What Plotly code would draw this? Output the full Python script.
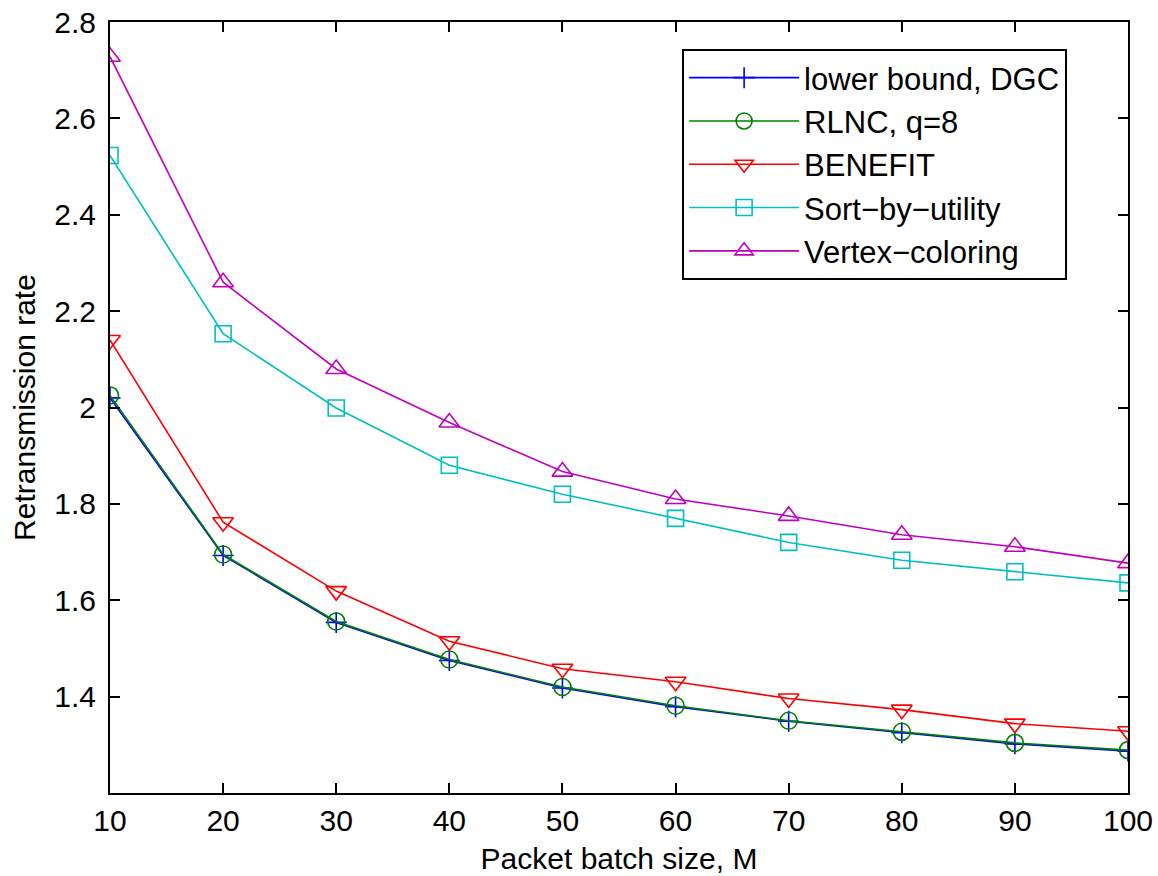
import plotly.graph_objects as go

batch_size = [10, 20, 30, 40, 50, 60, 70, 80, 90, 100]
lower_bound_dgc = [2.020, 1.693, 1.554, 1.475, 1.418, 1.379, 1.349, 1.325, 1.302, 1.287]
rlnc_q8 = [2.025, 1.695, 1.556, 1.477, 1.420, 1.381, 1.350, 1.327, 1.304, 1.289]
benefit = [2.140, 1.762, 1.619, 1.515, 1.458, 1.431, 1.396, 1.373, 1.344, 1.328]
sort_by_utility = [2.523, 2.153, 1.999, 1.880, 1.820, 1.770, 1.720, 1.683, 1.659, 1.636]
vertex_coloring = [2.728, 2.260, 2.080, 1.969, 1.867, 1.810, 1.775, 1.736, 1.711, 1.677]

y_tick_vals = [1.4, 1.6, 1.8, 2.0, 2.2, 2.4, 2.6, 2.8]
y_tick_text = ["1.4", "1.6", "1.8", "2", "2.2", "2.4", "2.6", "2.8"]
x_tick_vals = [10, 20, 30, 40, 50, 60, 70, 80, 90, 100]

series = [
    ("lower bound, DGC", lower_bound_dgc, "#0000FF", "cross-thin-open", 15),
    ("RLNC, q=8", rlnc_q8, "#008000", "circle-open", 17),
    ("BENEFIT", benefit, "#FF0000", "triangle-down-open", 18),
    ("Sort\u2212by\u2212utility", sort_by_utility, "#00BFBF", "square-open", 16),
    ("Vertex\u2212coloring", vertex_coloring, "#BF00BF", "triangle-up-open", 18),
]

FONT = "Arial, 'Liberation Sans', sans-serif"

fig = go.Figure()
for i, (name, vals, color, sym, size) in enumerate(series):
    fig.add_trace(go.Scatter(
        x=batch_size, y=vals, name=name, mode="lines+markers",
        legendgroup=f"g{i}",
        line=dict(color=color, width=1.6),
        marker=dict(symbol=sym, size=size, color=color, line=dict(color=color, width=1.6)),
    ))

fig.update_layout(
    width=1158, height=876,
    paper_bgcolor="white", plot_bgcolor="white",
    margin=dict(l=110, r=30, t=22, b=83, autoexpand=False),
    font=dict(family=FONT, size=30, color="black"),
    legend=dict(
        x=0.562, y=0.965, xanchor="left", yanchor="top",
        bordercolor="black", borderwidth=2, bgcolor="white",
        font=dict(family=FONT, size=31, color="black"),
        itemwidth=110, tracegroupgap=7, traceorder="normal",
    ),
    showlegend=True,
)

axis_common = dict(
    showline=True, linecolor="black", linewidth=2, mirror="ticks",
    ticks="inside", ticklen=10, tickwidth=2, tickcolor="black",
    showgrid=False, zeroline=False,
    tickfont=dict(family=FONT, size=30, color="black"),
)

fig.update_xaxes(
    range=[10, 100], tickvals=x_tick_vals, ticklabelstandoff=0,
    title=dict(text="Packet batch size, M", font=dict(family=FONT, size=30), standoff=12),
    **axis_common,
)
fig.update_yaxes(
    range=[1.2, 2.8], tickvals=y_tick_vals, ticktext=y_tick_text, ticklabelstandoff=6,
    title=dict(text="Retransmission rate", font=dict(family=FONT, size=30), standoff=10),
    **axis_common,
)

fig.write_html("out.html")
